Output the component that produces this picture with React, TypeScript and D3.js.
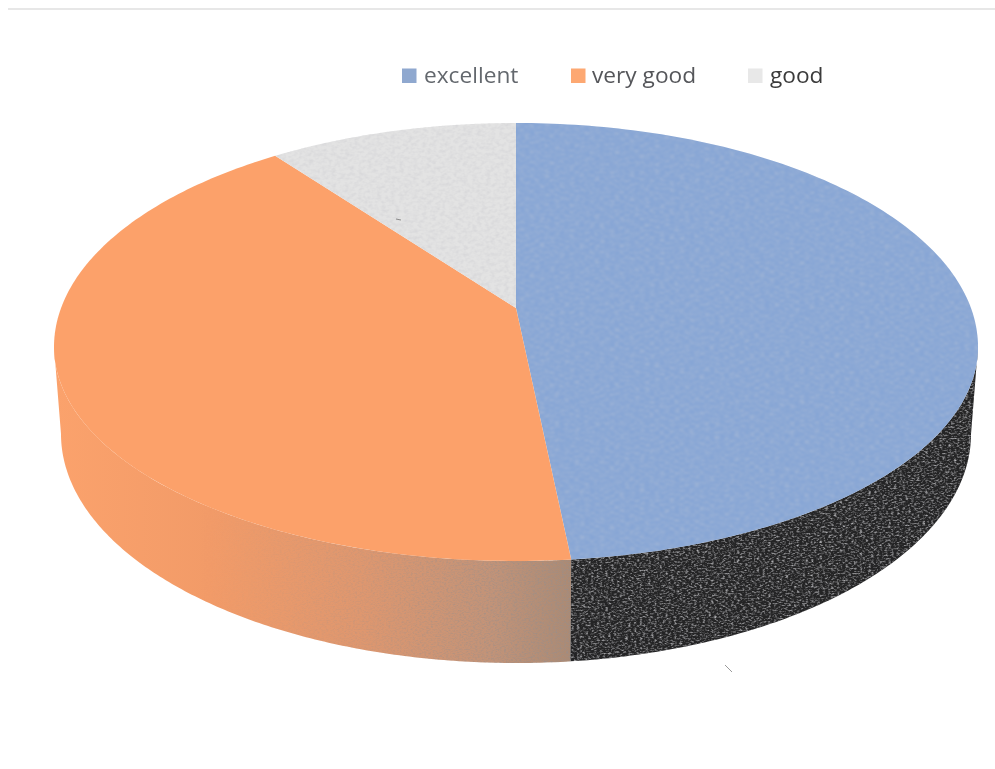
import React from "react";
import * as d3 from "d3";

const categories = ["excellent", "very good", "good"];
const shares = [48.4, 41.3, 10.3];
const topColors = ["#86a5d5", "#fca16a", "#e3e3e3"];
const legendColors = ["#8fa8cf", "#fda872", "#e8e8e8"];
const textColors = ["#63676d", "#55565a", "#3a3a3a"];

const W = 995, H = 769;
const cx = 516;
const apexY = 308;
// top face outline (upper and lower half differ: perspective)
const topRx = 462, topCy = 347, topRyUp = 224, topRyDown = 214;
// lower outline of the rim
const botRx = 455, botCy = 434, botRy = 229;

const k = (apexY - topCy) / topRyUp;

const xTop = d3.scaleLinear().domain([-1, 1]).range([cx - topRx, cx + topRx]);
const yUp = d3.scaleLinear().domain([-1, 0]).range([topCy - topRyUp, topCy]);
const yDown = d3.scaleLinear().domain([0, 1]).range([topCy, topCy + topRyDown]);
const xBot = d3.scaleLinear().domain([-1, 1]).range([cx - botRx, cx + botRx]);
const yBot = d3.scaleLinear().domain([-1, 1]).range([botCy - botRy, botCy + botRy]);

const arcs = d3.pie<number>().sort(null)(shares);

// disc projection: true angle on the round pie -> point on the unit circle of the picture
function project(a: number): [number, number] {
  const u = Math.sin(a), v = -Math.cos(a);
  const d = 1 + k * v;
  return [(u * Math.sqrt(1 - k * k)) / d, (v + k) / d];
}
const topPt = (a: number): [number, number] => {
  const [u, v] = project(a);
  return [xTop(u), v < 0 ? yUp(v) : yDown(v)];
};
const botPt = (a: number): [number, number] => {
  const [u, v] = project(a);
  return [xBot(u), yBot(v)];
};
const line = d3.line();
const samples = (s: number, e: number) => d3.range(0, 161).map((i) => s + ((e - s) * i) / 160);

function topPath(s: number, e: number) {
  return line([[cx, apexY], ...samples(s, e).map(topPt)]) + "Z";
}

const visStart = Math.acos(k);
const visEnd = 2 * Math.PI - visStart;
function sidePath(s: number, e: number) {
  const a0 = Math.max(s, visStart);
  const a1 = Math.min(e, visEnd);
  if (a1 <= a0) return "";
  const ts = samples(a0, a1);
  return line([...ts.map(topPt), ...ts.slice().reverse().map(botPt)]) + "Z";
}

const Speck = ({ id, freq, seed, rgb, gain, off, blur }: { id: string; freq: string; seed: number; rgb: number[]; gain: number; off: number; blur: number }) => (
  <filter id={id} x="0" y="0" width="100%" height="100%">
    <feTurbulence type="fractalNoise" baseFrequency={freq} numOctaves={2} seed={seed} result="n" />
    <feColorMatrix
      in="n"
      type="matrix"
      values={`0 0 0 0 ${rgb[0]}  0 0 0 0 ${rgb[1]}  0 0 0 0 ${rgb[2]}  ${gain} 0 0 0 ${off}`}
      result="s0"
    />
    <feGaussianBlur in="s0" stdDeviation={blur} result="s1" />
    <feComposite in="s1" in2="SourceGraphic" operator="in" />
  </filter>
);

export default function App() {
  const legendX = [402, 571, 748];
  const textX = [424, 592, 770];
  const rimOrange = sidePath(arcs[1].startAngle, arcs[1].endAngle);
  const rimDark = sidePath(arcs[0].startAngle, arcs[0].endAngle);
  return (
    <svg
      width={W}
      height={H}
      viewBox={`0 0 ${W} ${H}`}
      style={{ position: "absolute", left: 0, top: 0, background: "#fff" }}
    >
      <defs>
        <Speck id="grainDark" freq="0.35 0.6" seed={4} rgb={[0.5, 0.5, 0.52]} gain={2.2} off={-1.0} blur={0.6} />
        <Speck id="grainOrange" freq="0.45 0.75" seed={9} rgb={[0.32, 0.27, 0.25]} gain={2.4} off={-1.0} blur={0.55} />
        <Speck id="grainSoft" freq="0.22 0.3" seed={2} rgb={[0.66, 0.66, 0.68]} gain={1.5} off={-0.55} blur={0.7} />
        <Speck id="grainBlue" freq="0.2 0.5" seed={7} rgb={[0.56, 0.6, 0.68]} gain={1.0} off={-0.4} blur={0.9} />
        <filter id="soft" x="-5%" y="-20%" width="110%" height="140%">
          <feGaussianBlur stdDeviation="0.45" />
        </filter>
        <linearGradient id="sideOrange" gradientUnits="userSpaceOnUse" x1={54} y1="0" x2={571} y2="0">
          <stop offset="0" stopColor="#fba26c" />
          <stop offset="0.3" stopColor="#f29b68" />
          <stop offset="0.6" stopColor="#de976f" />
          <stop offset="0.85" stopColor="#c29378" />
          <stop offset="1" stopColor="#ab8a74" />
        </linearGradient>
        <linearGradient id="grainFade" gradientUnits="userSpaceOnUse" x1={200} y1="0" x2={571} y2="0">
          <stop offset="0" stopColor="#000" stopOpacity={0} />
          <stop offset="0.5" stopColor="#000" stopOpacity={0.3} />
          <stop offset="1" stopColor="#000" stopOpacity={0.8} />
        </linearGradient>
      </defs>

      {/* scan edge at the top of the page */}
      <line x1={8} x2={W} y1={9} y2={9} stroke="#cfcfcf" strokeWidth={1} />

      {/* rim */}
      <path d={rimOrange} fill="url(#sideOrange)" />
      <path d={rimOrange} fill="url(#grainFade)" filter="url(#grainOrange)" />
      <path d={rimDark} fill="#242425" />
      <path d={rimDark} fill="#000" filter="url(#grainDark)" />

      {/* top face */}
      {arcs.map((a, i) => (
        <path key={categories[i]} d={topPath(a.startAngle, a.endAngle)} fill={topColors[i]} />
      ))}
      <path d={topPath(arcs[0].startAngle, arcs[0].endAngle)} fill="#000" filter="url(#grainBlue)" />
      <path d={topPath(arcs[2].startAngle, arcs[2].endAngle)} fill="#000" filter="url(#grainSoft)" />

      {/* small scan marks */}
      <line x1={725} y1={665} x2={732} y2={672} stroke="#9a9a9a" strokeWidth={1} />
      <line x1={396} y1={219} x2={401} y2={220} stroke="#8a8a8a" strokeWidth={1} />

      {/* legend */}
      {categories.map((c, i) => (
        <g key={c}>
          <rect x={legendX[i]} y={68.5} width={14.5} height={14.5} fill={legendColors[i]} />
          <text
            x={textX[i]}
            y={83}
            fontFamily="'Open Sans', 'Noto Sans', sans-serif"
            fontSize={22.7}
            fill={textColors[i]}
            filter="url(#soft)"
          >
            {c}
          </text>
        </g>
      ))}
    </svg>
  );
}
